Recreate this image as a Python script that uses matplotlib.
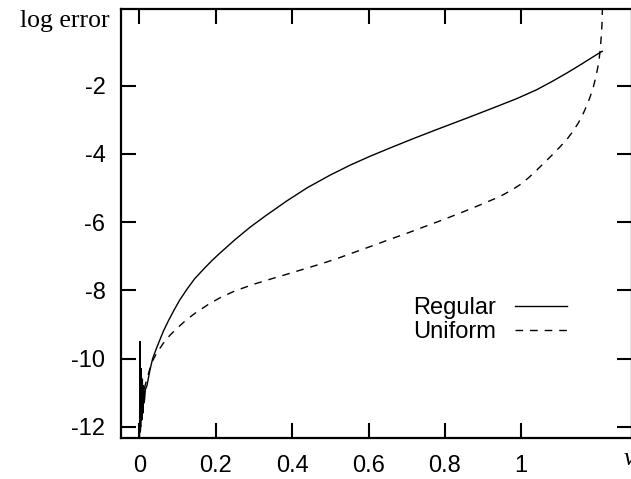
import numpy as np
import matplotlib
matplotlib.use("Agg")
import matplotlib.pyplot as plt

plt.rcParams["axes.unicode_minus"] = False

# values (v, log error)
reg_x = [0.0005, 0.002, 0.0035, 0.005, 0.0065, 0.008, 0.0095, 0.011, 0.013,
         0.016, 0.02, 0.028, 0.035, 0.045, 0.055, 0.063, 0.075, 0.09, 0.105,
         0.124, 0.145, 0.17, 0.19, 0.211, 0.25, 0.29, 0.33, 0.386, 0.44, 0.5,
         0.552, 0.604, 0.66, 0.72, 0.78, 0.813, 0.86, 0.92, 0.988, 1.04, 1.08,
         1.119, 1.15, 1.18, 1.2, 1.212]
reg_y = [-12.6, -9.5, -12.0, -10.3, -11.8, -10.6, -11.6, -10.8, -11.3,
         -10.9, -10.8, -10.33, -10.0, -9.7, -9.42, -9.2, -8.92, -8.6, -8.3,
         -7.98, -7.66, -7.36, -7.13, -6.91, -6.52, -6.15, -5.82, -5.38, -4.99, -4.62,
         -4.33, -4.07, -3.81, -3.54, -3.28, -3.14, -2.94, -2.68, -2.38, -2.12, -1.88,
         -1.63, -1.42, -1.21, -1.07, -0.99]

uni_x = [0.0005, 0.006, 0.015, 0.032, 0.045, 0.063, 0.08, 0.1, 0.124, 0.15,
         0.18, 0.211, 0.25, 0.3, 0.35, 0.386, 0.43, 0.48, 0.52, 0.552, 0.604,
         0.65, 0.7, 0.75, 0.8, 0.85, 0.9, 0.944, 0.975, 1.0, 1.02, 1.04, 1.06,
         1.08, 1.1, 1.119, 1.135, 1.15, 1.162, 1.172, 1.181, 1.189, 1.195, 1.2,
         1.204, 1.207, 1.209, 1.211, 1.212, 1.213]
uni_y = [-12.6, -11.5, -10.8, -10.13, -9.85, -9.55, -9.32, -9.1, -8.86, -8.64,
         -8.42, -8.22, -8.02, -7.82, -7.65, -7.53, -7.38, -7.21, -7.06, -6.93, -6.72,
         -6.53, -6.33, -6.12, -5.91, -5.69, -5.46, -5.25, -5.06, -4.88, -4.69, -4.48, -4.26,
         -4.04, -3.81, -3.58, -3.34, -3.08, -2.82, -2.57, -2.3, -2.02, -1.75, -1.48,
         -1.2, -0.9, -0.6, -0.25, 0.1, 0.5]

xticks = [0, 0.2, 0.4, 0.6, 0.8, 1]
xticklabels = ["0", "0.2", "0.4", "0.6", "0.8", "1"]
yticks = [-12, -10, -8, -6, -4, -2]

W, H = 631, 479
fig = plt.figure(figsize=(W / 100, H / 100), dpi=100)
ax = fig.add_axes([120.7 / W, 1 - 438.3 / H, (632 - 120.7) / W, (438.3 - 9.3) / H])

ax.plot(reg_x, reg_y, color="black", lw=1.0, label="Regular")
ax.plot(uni_x, uni_y, color="black", lw=1.0, linestyle=(0, (5.5, 5)), label="Uniform")

ax.set_xlim(-0.0487, 1.2898)
ax.set_ylim(-12.34, 0.24)
ax.set_xticks(xticks)
ax.set_xticklabels(xticklabels)
ax.set_yticks(yticks)

for s in ax.spines.values():
    s.set_linewidth(1.6)
ax.tick_params(direction="in", length=11, width=1.5, top=True, right=True,
               labelsize=17)
ax.tick_params(axis="x", pad=12)
ax.tick_params(axis="y", pad=11)
for lab in ax.get_xticklabels() + ax.get_yticklabels():
    lab.set_family("Liberation Sans")

leg = ax.legend(loc="center right", bbox_to_anchor=(567 / W, 1 - 320 / H),
                bbox_transform=fig.transFigure, frameon=False, markerfirst=False,
                handlelength=2.2, handletextpad=0.8, labelspacing=0.1,
                borderpad=0, borderaxespad=0,
                prop={"family": "Liberation Sans", "size": 17})

fig.text(110 / W, 1 - 26.7 / H, "log error", ha="right", va="baseline",
         family="Liberation Serif", fontsize=18.5)
fig.text(624 / W, 1 - 465 / H, "v", ha="left", va="baseline",
         family="Liberation Serif", style="italic", fontsize=18.5)

fig.savefig("out.png", dpi=100)
